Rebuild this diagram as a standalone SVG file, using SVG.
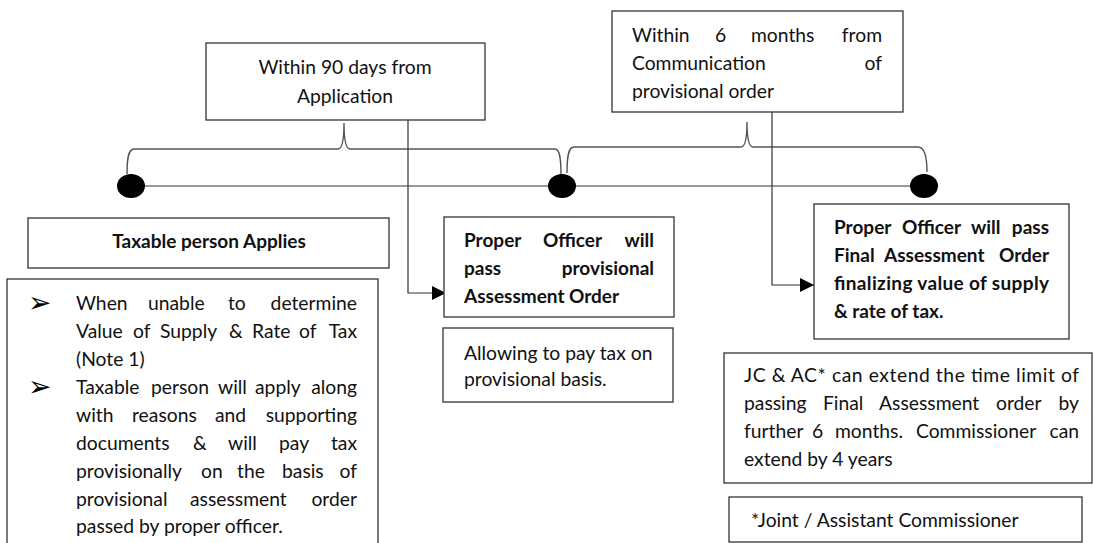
<svg xmlns="http://www.w3.org/2000/svg" width="1093" height="543" viewBox="0 0 1093 543">
  <defs>
    <style>
      .box { fill: #fff; stroke: #333; stroke-width: 1.3; }
      .t { font-family: Lato, "Open Sans", "Liberation Sans", sans-serif; font-size: 19.3px; fill: #111; }
      .b { font-weight: bold; font-size: 19px; }
      .mid { text-anchor: middle; }
      .end { text-anchor: end; }
      .wire { fill: none; stroke: #333; stroke-width: 1.2; }
      .brace { fill: none; stroke: #555; stroke-width: 1.4; }
      .dot { fill: #000; }
      .bul { font-family: "DejaVu Sans", sans-serif; font-size: 28px; fill: #000; }
    </style>
    <marker id="arrow" viewBox="0 0 10 10" refX="10" refY="5" markerWidth="14" markerHeight="14" markerUnits="userSpaceOnUse" orient="auto">
      <path d="M0,0 L10,5 L0,10 z" fill="#000"/>
    </marker>
  </defs>

  <rect width="1093" height="543" fill="#fff"/>

  <!-- connectors: timeline, braces and arrows -->
  <g id="connectors">
    <line class="wire" x1="131" y1="186" x2="924" y2="186"/>
    <path class="brace" d="M127,174 C127,160 128,149 134,149 L338,149 C342,149 344,140 344,123 C344,140 346,149 350,149 L555,149 C560,149 561,160 561,175"/>
    <path class="brace" d="M567,173 C567,158 568,147 574,147 L741,147 C745,147 747,138 747,122 C747,138 749,147 753,147 L918,147 C924,147 927,156 927,172"/>
    <polyline class="wire" points="408,120 408,293 446,293" marker-end="url(#arrow)"/>
    <polyline class="wire" points="772,112 772,285 814,285" marker-end="url(#arrow)"/>
  </g>

  <!-- timeline points -->
  <g id="point-apply"><ellipse class="dot" cx="131" cy="186" rx="14" ry="12"/></g>
  <g id="point-provisional"><ellipse class="dot" cx="562" cy="186" rx="14" ry="12"/></g>
  <g id="point-final"><ellipse class="dot" cx="924" cy="186" rx="14" ry="12"/></g>

  <g id="limit-90-days">
    <rect class="box" x="206" y="43" width="279" height="77"/>
    <text class="t mid" x="345" y="74">Within 90 days from</text>
    <text class="t mid" x="345" y="103">Application</text>
  </g>

  <g id="limit-6-months">
    <rect class="box" x="612" y="11" width="291" height="101"/>
    <text class="t" y="42"><tspan x="632">Within</tspan><tspan x="715">6</tspan><tspan x="751">months</tspan></text>
    <text class="t end" x="882" y="42">from</text>
    <text class="t" x="632" y="70">Communication</text>
    <text class="t end" x="882" y="70">of</text>
    <text class="t" x="632" y="98">provisional order</text>
  </g>

  <g id="taxable-person-applies">
    <rect class="box" x="28" y="218" width="361" height="50"/>
    <text class="t b mid" x="209" y="248">Taxable person Applies</text>
  </g>

  <g id="application-details">
    <rect class="box" x="7" y="279" width="371" height="280"/>
    <text class="bul" x="28" y="312">➢</text>
    <text class="bul" x="28" y="396">➢</text>
    <text class="t" y="310"><tspan x="76">When</tspan><tspan x="148">unable</tspan><tspan x="228">to</tspan></text>
    <text class="t end" x="357" y="310">determine</text>
    <text class="t" y="338"><tspan x="76">Value</tspan><tspan x="133">of</tspan><tspan x="160">Supply</tspan><tspan x="229">&amp;</tspan><tspan x="252">Rate</tspan><tspan x="299">of</tspan></text>
    <text class="t end" x="357" y="338">Tax</text>
    <text class="t" x="76" y="366">(Note 1)</text>
    <text class="t" y="394"><tspan x="76">Taxable</tspan><tspan x="151">person</tspan><tspan x="218">will</tspan><tspan x="255">apply</tspan></text>
    <text class="t end" x="357" y="394">along</text>
    <text class="t" y="422"><tspan x="76">with</tspan><tspan x="132">reasons</tspan><tspan x="215">and</tspan></text>
    <text class="t end" x="357" y="422">supporting</text>
    <text class="t" y="450"><tspan x="76">documents</tspan><tspan x="193">&amp;</tspan><tspan x="228">will</tspan><tspan x="279">pay</tspan></text>
    <text class="t end" x="357" y="450">tax</text>
    <text class="t" y="478"><tspan x="76">provisionally</tspan><tspan x="201">on</tspan><tspan x="237">the</tspan><tspan x="282">basis</tspan></text>
    <text class="t end" x="357" y="478">of</text>
    <text class="t" y="506"><tspan x="76">provisional</tspan><tspan x="190">assessment</tspan></text>
    <text class="t end" x="357" y="506">order</text>
    <text class="t" x="76" y="533">passed by proper officer.</text>
  </g>

  <g id="provisional-order">
    <rect class="box" x="444" y="217" width="230" height="100"/>
    <text class="t b" y="247"><tspan x="464">Proper</tspan><tspan x="543">Officer</tspan></text>
    <text class="t b end" x="654" y="247">will</text>
    <text class="t b" x="464" y="275">pass</text>
    <text class="t b end" x="654" y="275">provisional</text>
    <text class="t b" x="464" y="303">Assessment Order</text>
  </g>

  <g id="provisional-note">
    <rect class="box" x="443" y="328" width="230" height="74"/>
    <text class="t" x="464" y="360">Allowing to pay tax on</text>
    <text class="t" x="464" y="386">provisional basis.</text>
  </g>

  <g id="final-order">
    <rect class="box" x="814" y="204" width="255" height="135"/>
    <text class="t b" y="234"><tspan x="834">Proper</tspan><tspan x="902">Officer</tspan><tspan x="971">will</tspan></text>
    <text class="t b end" x="1049" y="234">pass</text>
    <text class="t b" y="262"><tspan x="834">Final</tspan><tspan x="884">Assessment</tspan></text>
    <text class="t b end" x="1049" y="262">Order</text>
    <text class="t b" x="834" y="290" textLength="215" lengthAdjust="spacing">finalizing value of supply</text>
    <text class="t b" x="834" y="318">&amp; rate of tax.</text>
  </g>

  <g id="time-extension">
    <rect class="box" x="724" y="353" width="368" height="130"/>
    <text class="t" x="744" y="382" textLength="335" lengthAdjust="spacing">JC &amp; AC* can extend the time limit of</text>
    <text class="t" y="410"><tspan x="744">passing</tspan><tspan x="823">Final</tspan><tspan x="879">Assessment</tspan><tspan x="996">order</tspan></text>
    <text class="t end" x="1079" y="410">by</text>
    <text class="t" y="438"><tspan x="744">further</tspan><tspan x="812">6</tspan><tspan x="835">months.</tspan><tspan x="916">Commissioner</tspan></text>
    <text class="t end" x="1079" y="438">can</text>
    <text class="t" x="744" y="466">extend by 4 years</text>
  </g>

  <g id="footnote">
    <rect class="box" x="729" y="497" width="353" height="45"/>
    <text class="t" x="751" y="527">*Joint / Assistant Commissioner</text>
  </g>
</svg>
